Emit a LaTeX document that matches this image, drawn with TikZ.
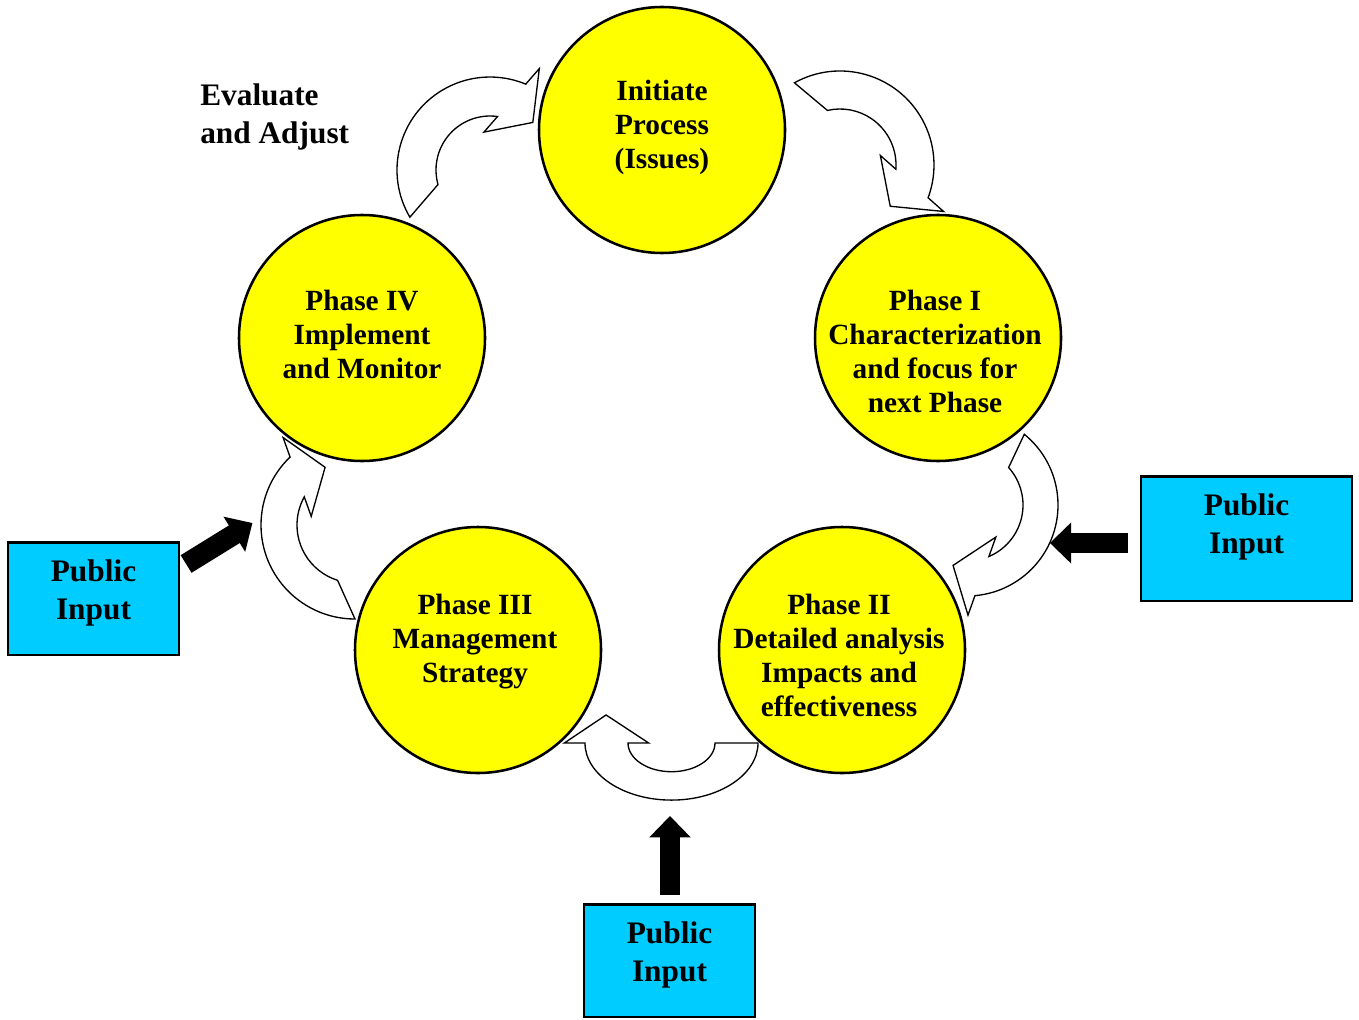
\documentclass[tikz,border=0pt]{standalone}
\usepackage{fontspec}
\setmainfont{Liberation Serif}
\usetikzlibrary{arrows.meta,calc,positioning}
\definecolor{phaseyellow}{HTML}{FFFF00}
\definecolor{inputblue}{HTML}{00CCFF}

% curved band with a head: inner r, outer r, tail angles, base angles, tip
\newcommand{\bentarrow}[8]{%
  \coordinate (bo) at (#5:#2);
  \coordinate (bi) at (#6:#1);
  \draw[bentband] (#3:#2) arc[start angle=#3,end angle=#5,radius=#2]
    -- ($(bo)!-15.5pt!(bi)$) -- (#7:#8) -- ($(bi)!-15.5pt!(bo)$)
    -- (bi) arc[start angle=#6,end angle=#4,radius=#1] -- cycle;}

\begin{document}
\begin{tikzpicture}
    [x=0.75pt,y=-0.75pt,
    phase/.style={circle,draw,line width=1.9pt,fill=phaseyellow,minimum size=184.5pt,inner sep=0pt},
    phasetext/.style={align=center,inner sep=0pt,font=\bfseries\fontsize{22}{25.5}\selectfont},
    input/.style={draw,line width=1.9pt,fill=inputblue},
    inputtext/.style={align=center,inner sep=0pt,font=\bfseries\fontsize{23.5}{28.5}\selectfont},
    bentband/.style={draw,fill=white,line width=1pt,line join=miter},
    feed/.style={line width=15.5pt,-{Triangle[length=16pt,width=30pt]}}]

    \useasboundingbox (0,0) rectangle (1359,1020);

    % arrows round the cycle
    \begin{scope}[shift={(490,170)}]
      \bentarrow{54}{93}{149.5}{164.4}{292.6}{278}{312}{64}
    \end{scope}
    \begin{scope}[shift={(840,165)}]
      \bentarrow{56}{94}{241}{257}{380.4}{364.3}{399.4}{65}
    \end{scope}
    \begin{scope}[shift={(967,505)}]
      \bentarrow{56}{91}{-51}{-42}{85}{67}{103}{62}
    \end{scope}
    \begin{scope}[shift={(671.5,743)},yscale=0.66]
      \bentarrow{43.5}{86.5}{0}{0}{180}{180}{213}{78}
    \end{scope}
    \begin{scope}[shift={(355,525)}]
      \bentarrow{58}{94}{90}{107.5}{226.3}{209}{242.6}{65}
    \end{scope}

    \node[phase] (init) at (662,130) {};
    \node[phase] (phase1) at (938,338) {};
    \node[phase] (phase2) at (842,650) {};
    \node[phase] (phase3) at (478,650) {};
    \node[phase] (phase4) at (362,338) {};
    \node[phasetext] (inittext) at ([shift={(0,-3)}]init.center) {Initiate\\Process\\(Issues)};
    \node[phasetext] (phase1text) at ([shift={(-3,13)}]phase1.center)
      {Phase I\\Characterization\\and focus for\\next Phase};
    \node[phasetext] (phase2text) at ([shift={(-3,5)}]phase2.center)
      {Phase II\\Detailed analysis\\Impacts and\\effectiveness};
    \node[phasetext] (phase3text) at ([shift={(-3,-8)}]phase3.center) {Phase III\\Management\\Strategy};
    \node[phasetext] (phase4text) at ([shift={(0,-4)}]phase4.center) {Phase IV\\Implement\\and Monitor};

    \node[input,minimum width=128pt,minimum height=84.4pt] (inputleft) at (93.5,598.5) {};
    \node[input,minimum width=158pt,minimum height=93.4pt] (inputright) at (1246.5,538.5) {};
    \node[input,minimum width=128pt,minimum height=84.4pt] (inputbottom) at (669.5,960.5) {};
    \node[inputtext] (inputlefttext) at ([shift={(0,-6)}]inputleft.center) {Public\\Input};
    \node[inputtext] (inputrighttext) at ([shift={(0,-12)}]inputright.center) {Public\\Input};
    \node[inputtext] (inputbottomtext) at ([shift={(0,-6)}]inputbottom.center) {Public\\Input};

    \node[inputtext,anchor=west,align=left] (evaluate) at (200,117) {Evaluate\\and Adjust};

    \draw[feed] ([shift={(6,-34.5)}]inputleft.east) -- ++(-31.7:78);
    \draw[feed] ([shift={(-12,4.5)}]inputright.west) -- ++(-78,0);
    \draw[feed] ([shift={(0.5,-8)}]inputbottom.north) -- ++(0,-79);
  \end{tikzpicture}
\end{document}
